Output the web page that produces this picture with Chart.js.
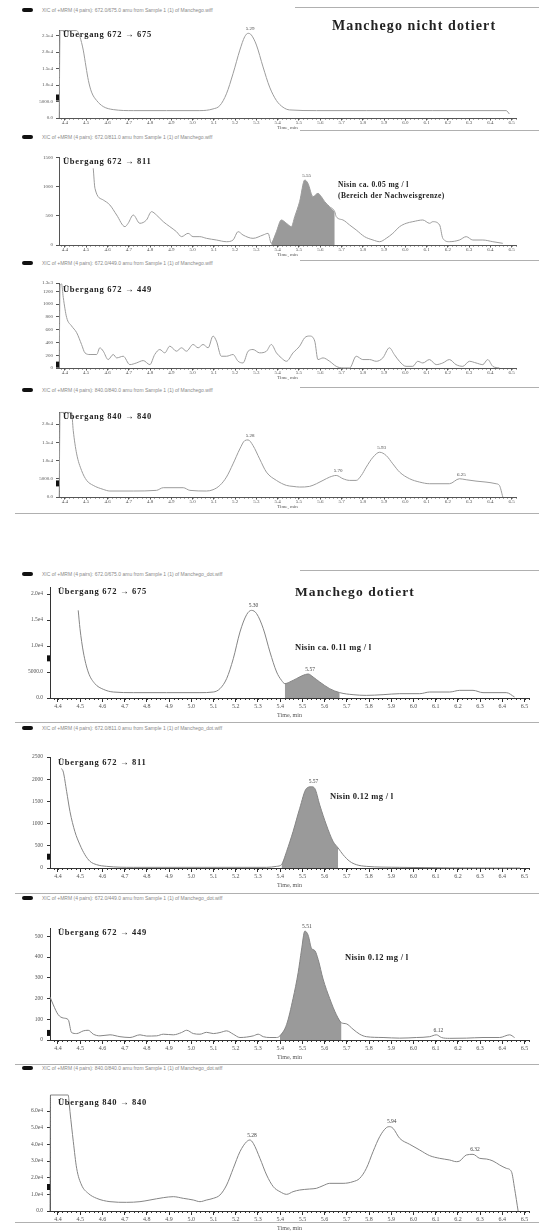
<!DOCTYPE html>
<html><head><meta charset="utf-8">
<script src="https://cdn.jsdelivr.net/npm/chart.js@4.4.1/dist/chart.umd.min.js"></script>
<style>
body{margin:0;background:#fff;}
#wrap{position:relative;width:539px;height:1231px;overflow:hidden;background:#fff;font-family:"Liberation Serif","DejaVu Serif",serif;}
#wrap canvas{position:absolute;left:0;}
.hdr{position:absolute;left:42px;font:5px "Liberation Sans","DejaVu Sans",sans-serif;line-height:5px;color:#8a8a8a;white-space:nowrap;}
.mark{position:absolute;left:22px;width:11px;height:4px;background:#111;border-radius:2px;}
.hl{position:absolute;height:1px;background:#b0b0b0;right:0;}
.ann{position:absolute;font-weight:bold;color:#222;white-space:nowrap;}
</style></head><body><div id="wrap"></div>
<script>
// ---------- axis tick values / labels ----------
const xTickValues = [4.4,4.5,4.6,4.7,4.8,4.9,5.0,5.1,5.2,5.3,5.4,5.5,5.6,5.7,5.8,5.9,6.0,6.1,6.2,6.3,6.4,6.5];
const xTickLabels = ['4.4','4.5','4.6','4.7','4.8','4.9','5.0','5.1','5.2','5.3','5.4','5.5','5.6','5.7','5.8','5.9','6.0','6.1','6.2','6.3','6.4','6.5'];

// ---------- Panel 1: Manchego nicht dotiert, 672 > 675 ----------
const p1Time = [4.373,4.377,4.455,4.470,4.486,4.499,4.510,4.525,4.549,4.580,4.627,4.721,4.877,5.034,5.096,5.128,5.159,5.190,5.222,5.245,5.261,5.276,5.300,5.331,5.362,5.394,5.425,5.456,5.582,5.816,6.129,6.474,6.489];
const p1Int  = [0,26520,26520,24680,20600,15500,11420,7850,5300,3470,2550,2240,2240,2240,2750,3770,7340,13460,20600,24680,25700,25190,22130,15500,9380,5300,3260,2450,2240,2240,2240,2240,1200];
const p1YTicks = [0,5000,10000,15000,20000,25000];
const p1YLabels = ['0.0','5000.0','1.0e4','1.5e4','2.0e4','2.5e4'];
const p1PeakTimes = [5.261];
const p1PeakLabels = ['5.29'];

// ---------- Panel 2: 672 > 811 ----------
const p2Time = [4.533,4.541,4.580,4.611,4.643,4.682,4.697,4.721,4.752,4.783,
  4.807,4.830,4.862,4.893,4.924,4.948,4.979,5.002,5.034,5.065,
  5.112,5.159,5.190,5.214,5.237,5.284,5.331,5.355,5.370,5.394,
  5.417,5.441,5.464,5.480,5.503,5.527,5.542,5.566,5.589,5.605,
  5.621,5.644,5.668,5.675,5.707,5.738,5.769,5.808,5.848,5.879,
  5.910,5.941,5.973,6.004,6.035,6.082,6.114,6.129,6.161,6.176,
  6.207,6.254,6.286,6.317,6.364,6.411,6.458];
const p2Int = [1322,977,776,690,517,316,374,517,374,431,
  575,517,402,316,230,144,201,144,144,115,
  86,57,86,230,172,115,172,201,29,230,
  431,374,316,489,747,1121,1063,833,891,833,
  747,661,575,489,431,345,259,144,86,57,
  115,201,316,374,402,431,374,402,345,115,
  57,86,144,86,86,57,29];
const p2YTicks = [0,500,1000,1500];
const p2YLabels = ['0','500','1000','1500'];
const p2Shade = [5.370,5.668];
const p2PeakTimes = [5.527];
const p2PeakLabels = ['5.55'];

// ---------- Panel 3: 672 > 449 ----------
const p3Time = [4.373,4.377,4.384,4.392,4.408,4.431,4.455,4.478,4.494,4.518,
  4.549,4.564,4.580,4.603,4.627,4.643,4.674,4.705,4.736,4.768,
  4.799,4.822,4.846,4.869,4.893,4.924,4.948,4.971,5.002,5.026,
  5.049,5.073,5.096,5.112,5.135,5.159,5.190,5.214,5.237,5.261,
  5.284,5.315,5.347,5.370,5.394,5.417,5.441,5.472,5.503,5.527,
  5.550,5.574,5.589,5.613,5.644,5.675,5.707,5.738,5.769,5.800,
  5.832,5.863,5.894,5.925,5.948,5.972,6.003,6.035,6.058,6.082,
  6.113,6.145,6.176,6.207,6.238,6.270,6.301,6.332,6.364,6.387,
  6.411,6.442];
const p3Int = [0,1289,1316,1105,789,658,553,368,237,211,
  211,316,263,132,211,158,184,53,79,116,
  53,211,289,237,342,263,316,263,368,316,
  368,316,500,421,184,184,211,105,79,263,
  289,237,263,368,237,158,105,237,342,474,
  500,421,132,158,105,26,0,0,184,132,
  132,105,158,316,211,105,26,26,105,79,
  132,53,79,132,53,26,105,79,53,132,
  26,0];
const p3YTicks = [0,200,400,600,800,1000,1200,1330];
const p3YLabels = ['0','200','400','600','800','1000','1200','1.3e3'];

// ---------- Panel 4: 840 > 840 ----------
const p4Time = [4.373,4.377,4.431,4.439,4.455,4.478,4.502,4.533,4.580,4.611,
  4.721,4.830,4.862,4.956,4.987,5.065,5.096,5.128,5.159,5.190,
  5.222,5.245,5.261,5.284,5.315,5.347,5.394,5.441,5.472,5.503,
  5.550,5.582,5.613,5.644,5.675,5.707,5.738,5.769,5.793,5.816,
  5.848,5.879,5.910,5.941,5.973,6.020,6.067,6.114,6.207,6.254,
  6.286,6.332,6.379,6.426,6.442,6.458];
const p4Int = [0,23180,23180,18180,11820,7270,4550,3180,2090,1640,
  1640,1820,2550,2550,1820,1640,2000,3180,5450,9090,
  13180,15450,15640,14090,10450,6820,4550,3180,2910,2730,
  2910,3640,4550,5450,5910,5000,4550,4550,5910,8180,
  10910,12270,11360,9090,6820,5000,4090,3640,3640,5000,
  4730,4360,4090,3640,3180,0];
const p4YTicks = [0,5000,10000,15000,20000];
const p4YLabels = ['0.0','5000.0','1.0e4','1.5e4','2.0e4'];
const p4PeakTimes = [5.261,5.675,5.879,6.254];
const p4PeakLabels = ['5.28','5.70','5.93','6.25'];

// ---------- Panel 5: Manchego dotiert, 672 > 675 ----------
const p5Time = [4.491,4.499,4.514,4.536,4.566,4.604,4.649,4.739,4.889,5.039,
  5.099,5.129,5.159,5.189,5.219,5.249,5.271,5.294,5.324,5.354,
  5.384,5.406,5.421,5.443,5.473,5.503,5.526,5.548,5.578,5.623,
  5.668,5.728,5.788,5.863,5.938,6.028,6.073,6.163,6.208,6.268,
  6.313,6.418,6.455];
const p5Int = [16860,13330,8850,5000,2760,1670,1150,1030,1030,1030,
  1150,1790,3720,7560,12690,16030,16860,16220,13330,8850,
  5000,3400,2760,3080,3720,4360,4620,4040,3080,1790,
  1030,640,510,640,830,830,1150,1150,1470,1470,
  1030,1030,190];
const p5YTicks = [0,5000,10000,15000,20000];
const p5YLabels = ['0.0','5000.0','1.0e4','1.5e4','2.0e4'];
const p5Shade = [5.421,5.668];
const p5PeakTimes = [5.271,5.526];
const p5PeakLabels = ['5.30','5.57'];

// ---------- Panel 6: 672 > 811 ----------
const p6Time = [4.416,4.424,4.439,4.454,4.476,4.499,4.521,4.544,4.574,4.619,
  4.739,5.039,5.339,5.384,5.406,5.429,5.458,5.488,5.518,5.541,
  5.556,5.578,5.608,5.638,5.661,5.683,5.713,5.743,5.788,5.938,
  6.388,6.480];
const p6Int = [2240,2160,1720,1270,820,520,300,150,75,37,
  15,15,15,37,75,373,820,1343,1790,1830,
  1790,1420,970,600,450,300,150,75,37,15,
  0,0];
const p6YTicks = [0,500,1000,1500,2000,2500];
const p6YLabels = ['0','500','1000','1500','2000','2500'];
const p6Shade = [5.406,5.661];
const p6PeakTimes = [5.541];
const p6PeakLabels = ['5.57'];

// ---------- Panel 7: 672 > 449 ----------
const p7Time = [4.364,4.379,4.401,4.424,4.446,4.461,4.484,4.514,4.536,4.559,
  4.589,4.634,4.679,4.724,4.769,4.799,4.844,4.874,4.919,4.956,
  4.979,5.009,5.039,5.069,5.099,5.129,5.159,5.189,5.219,5.279,
  5.301,5.324,5.354,5.384,5.399,5.429,5.458,5.481,5.496,5.511,
  5.526,5.541,5.556,5.571,5.593,5.623,5.653,5.676,5.698,5.728,
  5.758,5.788,5.863,5.938,6.013,6.073,6.103,6.126,6.163,6.238,
  6.313,6.388,6.433,6.455];
const p7Int = [208,169,122,106,98,36,31,44,47,28,
  20,25,16,12,25,19,20,28,25,36,
  47,31,28,37,31,36,44,28,12,20,
  28,16,12,12,20,75,200,325,434,525,
  505,442,431,388,294,200,122,83,78,52,
  28,16,12,9,12,16,25,12,8,9,
  12,12,25,12];
const p7YTicks = [0,100,200,300,400,500];
const p7YLabels = ['0','100','200','300','400','500'];
const p7Shade = [5.399,5.676];
const p7PeakTimes = [5.511,6.103];
const p7PeakLabels = ['5.51','6.12'];

// ---------- Panel 8: 840 > 840 ----------
const p8Time = [4.364,4.366,4.446,4.451,4.454,4.469,4.484,4.506,4.536,4.574,
  4.634,4.709,4.769,4.814,4.874,4.919,4.964,5.009,5.039,5.069,
  5.099,5.129,5.159,5.189,5.219,5.249,5.264,5.279,5.309,5.339,
  5.369,5.399,5.429,5.458,5.488,5.533,5.563,5.593,5.623,5.683,
  5.728,5.758,5.788,5.818,5.848,5.878,5.893,5.908,5.938,5.983,
  6.028,6.073,6.118,6.163,6.193,6.208,6.238,6.268,6.298,6.328,
  6.358,6.388,6.418,6.441,6.455,6.471];
const p8Int = [0,69600,69600,63600,59600,41600,25600,15600,10600,7600,
  5600,5200,5600,6600,8000,8600,7600,6600,5600,6600,
  7600,9600,15600,25600,35600,41600,42600,40600,31600,21600,
  14600,11600,10000,11600,12600,13200,13600,15200,16600,16600,
  17600,19600,25600,35600,44600,50000,50600,49600,43600,40000,
  36600,33200,31600,30600,29600,30000,33600,34000,31600,31200,
  30000,27600,25600,23600,13600,0];
const p8YTicks = [0,10000,20000,30000,40000,50000,60000];
const p8YLabels = ['0.0','1.0e4','2.0e4','3.0e4','4.0e4','5.0e4','6.0e4'];
const p8PeakTimes = [5.264,5.893,6.268];
const p8PeakLabels = ['5.28','5.94','6.32'];

// y-axis marker levels (small black marker on y axis)
const markerLevels = [6220,null,53,3730,7630,254,34,14400];

// ---------- layout (positions / styles) ----------
const SERIF = '"Liberation Serif","DejaVu Serif",serif';
const topGeom = {left:59,right:516,xmin:4.372,xmax:6.52,group:'top'};
const botGeom = {left:50,right:529,xmin:4.364,xmax:6.52,group:'bot'};
const panels = [
  Object.assign({top:30,bottom:118,ymax:26700,time:p1Time,inten:p1Int,yTicks:p1YTicks,yLabels:p1YLabels,peakT:p1PeakTimes,peakL:p1PeakLabels},topGeom),
  Object.assign({top:157,bottom:245,ymax:1517,time:p2Time,inten:p2Int,yTicks:p2YTicks,yLabels:p2YLabels,shade:p2Shade,peakT:p2PeakTimes,peakL:p2PeakLabels},topGeom),
  Object.assign({top:283,bottom:368,ymax:1330,time:p3Time,inten:p3Int,yTicks:p3YTicks,yLabels:p3YLabels,peakT:[],peakL:[]},topGeom),
  Object.assign({top:412,bottom:497,ymax:23300,time:p4Time,inten:p4Int,yTicks:p4YTicks,yLabels:p4YLabels,peakT:p4PeakTimes,peakL:p4PeakLabels},topGeom),
  Object.assign({top:587,bottom:698,ymax:21350,time:p5Time,inten:p5Int,yTicks:p5YTicks,yLabels:p5YLabels,shade:p5Shade,peakT:p5PeakTimes,peakL:p5PeakLabels},botGeom),
  Object.assign({top:757,bottom:868,ymax:2500,time:p6Time,inten:p6Int,yTicks:p6YTicks,yLabels:p6YLabels,shade:p6Shade,peakT:p6PeakTimes,peakL:p6PeakLabels},botGeom),
  Object.assign({top:928,bottom:1040,ymax:540,time:p7Time,inten:p7Int,yTicks:p7YTicks,yLabels:p7YLabels,shade:p7Shade,peakT:p7PeakTimes,peakL:p7PeakLabels},botGeom),
  Object.assign({top:1095,bottom:1211,ymax:69600,time:p8Time,inten:p8Int,yTicks:p8YTicks,yLabels:p8YLabels,peakT:p8PeakTimes,peakL:p8PeakLabels},botGeom)
];

const wrap = document.getElementById('wrap');

function interp(data, t){
  for(let i=1;i<data.length;i++){
    if(data[i].x>=t){const a=data[i-1],b=data[i];const f=(t-a.x)/(b.x-a.x||1);return a.y+(b.y-a.y)*f;}
  }
  return data[data.length-1].y;
}

const decoPlugin = {
  id:'deco',
  afterDatasetsDraw(chart, args, opts){
    const ctx = chart.ctx, xs = chart.scales.x, ys = chart.scales.y, ca = chart.chartArea;
    const data = chart.data.datasets[0].data;
    ctx.save();
    ctx.strokeStyle = opts.axisColor; ctx.lineWidth = 1;
    ctx.beginPath();
    for(let v=Math.ceil(xs.min/0.02)*0.02; v<=xs.max; v+=0.02){
      const px = Math.round(xs.getPixelForValue(v))+0.5;
      ctx.moveTo(px, ca.bottom); ctx.lineTo(px, ca.bottom+opts.minorLen);
    }
    ctx.stroke();
    ctx.fillStyle = '#444'; ctx.font = opts.peakFont; ctx.textAlign='center'; ctx.textBaseline='bottom';
    (opts.peakT||[]).forEach((t,i)=>{
      const v = interp(data,t);
      ctx.fillText(opts.peakL[i], xs.getPixelForValue(t)+2, ys.getPixelForValue(v)-2);
    });
    if(opts.marker!=null){
      const py = ys.getPixelForValue(opts.marker);
      ctx.fillStyle='#111';
      ctx.fillRect(ca.left-3, py-3, 3, 6);
    }
    ctx.restore();
  }
};

panels.forEach((p, idx)=>{
  const isTop = p.group==='top';
  const padTop = 8;
  const xH = isTop ? 14 : 21;
  const h = padTop + (p.bottom - p.top) + xH;
  const cv = document.createElement('canvas');
  cv.width = 539; cv.height = h;
  cv.style.width='539px'; cv.style.height=h+'px';
  cv.style.top = (p.top - padTop)+'px';
  wrap.appendChild(cv);
  const pts = p.time.map((t,i)=>({x:t,y:p.inten[i]}));
  const lineColor = isTop ? '#9c9c9c' : '#858585';
  const axisColor = isTop ? '#555' : '#333';
  const datasets = [{data:pts,borderColor:lineColor,borderWidth:1,pointRadius:0,fill:false,
    cubicInterpolationMode:'monotone',order:1,clip:false}];
  if(p.shade){
    datasets.push({data:pts.filter(q=>q.x>=p.shade[0]-1e-9 && q.x<=p.shade[1]+1e-9),
      borderWidth:0,borderColor:'rgba(0,0,0,0)',backgroundColor:'#9a9a9a',fill:'origin',pointRadius:0,
      cubicInterpolationMode:'monotone',order:2,clip:false});
  }
  const tickFontX = {family:SERIF,size:isTop?5:6,lineHeight:1};
  const tickFontY = {family:SERIF,size:isTop?5:5.5,lineHeight:1};
  new Chart(cv,{
    type:'line',
    data:{datasets},
    options:{
      responsive:false, animation:false, devicePixelRatio:1,
      layout:{padding:{top:padTop,right:539-p.right,left:0,bottom:0}},
      plugins:{legend:{display:false},tooltip:{enabled:false},
        deco:{axisColor, minorLen:isTop?1.5:2, peakFont:(isTop?5:5.5)+'px '+SERIF,
              peakT:p.peakT, peakL:p.peakL, marker:markerLevels[idx]}},
      scales:{
        x:{type:'linear',min:p.xmin,max:p.xmax,
          afterFit:s=>{s.height=xH;},
          afterBuildTicks:s=>{s.ticks=xTickValues.map(v=>({value:v}));},
          ticks:{autoSkip:false,maxRotation:0,minRotation:0,font:tickFontX,color:'#555',
            padding:isTop?0:1, callback:(v,i)=>xTickLabels[i]},
          grid:{display:true,drawOnChartArea:false,drawTicks:true,tickLength:isTop?2.5:4,color:axisColor},
          border:{display:true,color:axisColor,width:1},
          title:{display:true,text:'Time, min',color:'#555',font:{family:SERIF,size:isTop?5:6},padding:{top:0,bottom:isTop?1:0}}
        },
        y:{type:'linear',min:0,max:p.ymax,
          afterFit:s=>{s.width=p.left;},
          afterBuildTicks:s=>{s.ticks=p.yTicks.map(v=>({value:v}));},
          ticks:{autoSkip:false,font:tickFontY,color:'#555',padding:isTop?3:4,
            callback:(v,i)=>p.yLabels[i]},
          grid:{display:true,drawOnChartArea:false,drawTicks:true,tickLength:3,color:axisColor},
          border:{display:true,color:axisColor,width:1}
        }
      }
    },
    plugins:[decoPlugin]
  });
});

// ---------- headers, rules and annotations ----------
function el(cls, css, text){
  const d=document.createElement('div'); d.className=cls;
  Object.assign(d.style, css); if(text) d.textContent=text; wrap.appendChild(d); return d;
}
const headerTexts = [
  'XIC of +MRM (4 pairs): 672.0/675.0 amu from Sample 1 (1) of Manchego.wiff',
  'XIC of +MRM (4 pairs): 672.0/811.0 amu from Sample 1 (1) of Manchego.wiff',
  'XIC of +MRM (4 pairs): 672.0/449.0 amu from Sample 1 (1) of Manchego.wiff',
  'XIC of +MRM (4 pairs): 840.0/840.0 amu from Sample 1 (1) of Manchego.wiff',
  'XIC of +MRM (4 pairs): 672.0/675.0 amu from Sample 1 (1) of Manchego_dot.wiff',
  'XIC of +MRM (4 pairs): 672.0/811.0 amu from Sample 1 (1) of Manchego_dot.wiff',
  'XIC of +MRM (4 pairs): 672.0/449.0 amu from Sample 1 (1) of Manchego_dot.wiff',
  'XIC of +MRM (4 pairs): 840.0/840.0 amu from Sample 1 (1) of Manchego_dot.wiff'
];
const headerY = [10,137,263,390,574,728,898,1068];
headerY.forEach((y,i)=>{
  el('mark',{top:(y-2)+'px'});
  el('hdr',{top:(y-2.5)+'px'},headerTexts[i]);
});
[[7,295],[130,300],[260,300],[387,300],[570,300]].forEach(([y,x])=>el('hl',{top:y+'px',left:x+'px'}));
[513,722,893,1064,1222].forEach(y=>el('hl',{top:y+'px',left:'15px'}));

function ann(text, x, y, size, extra){
  return el('ann',Object.assign({left:x+'px',top:(y-size*0.6)+'px',fontSize:size+'px',lineHeight:size+'px'},extra||{}),text);
}
ann('Manchego nicht dotiert',332,27,14,{letterSpacing:'1.1px'});
ann('Übergang 672 → 675',63,35,8.5,{letterSpacing:'0.7px'});
ann('Übergang 672 → 811',63,162,8.5,{letterSpacing:'0.7px'});
ann('Nisin ca. 0.05 mg / l',338,185,7.5,{letterSpacing:'0.4px'});
ann('(Bereich der Nachweisgrenze)',338,196,7.5,{letterSpacing:'0.4px'});
ann('Übergang 672 → 449',63,290,8.5,{letterSpacing:'0.7px'});
ann('Übergang 840 → 840',63,417,8.5,{letterSpacing:'0.7px'});
ann('Manchego dotiert',295,593,13.5,{letterSpacing:'1.1px'});
ann('Übergang 672 → 675',58,592,8.5,{letterSpacing:'0.7px'});
ann('Nisin ca. 0.11 mg / l',295,648,8.5,{letterSpacing:'0.3px'});
ann('Übergang 672 → 811',58,763,8.5,{letterSpacing:'0.7px'});
ann('Nisin 0.12 mg / l',330,797,8.5,{letterSpacing:'0.3px'});
ann('Übergang 672 → 449',58,933,8.5,{letterSpacing:'0.7px'});
ann('Nisin 0.12 mg / l',345,958,8.5,{letterSpacing:'0.3px'});
ann('Übergang 840 → 840',58,1103,8.5,{letterSpacing:'0.7px'});
</script>
</body></html>
